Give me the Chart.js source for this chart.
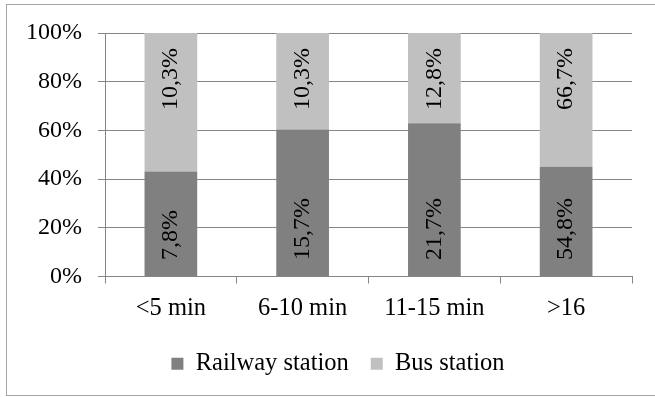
<!DOCTYPE html>
<html>
<head>
<meta charset="utf-8">
<script src="https://cdn.jsdelivr.net/npm/chart.js@4/dist/chart.umd.min.js"></script>
<style>
  html, body { margin: 0; padding: 0; background: #ffffff; }
  #wrap { width: 655px; height: 397px; position: relative; }
</style>
</head>
<body>
<div id="wrap"><canvas id="c" width="655" height="397"></canvas></div>
<script>
// Travel time to station, share of respondents by station type
const categories = ['<5 min', '6-10 min', '11-15 min', '>16'];
const railwayValues = [7.8, 15.7, 21.7, 54.8];
const busValues = [10.3, 10.3, 12.8, 66.7];
const yTicks = [0, 20, 40, 60, 80, 100];

// 100% stacked: each column is split by the share of its two values
const totals = categories.map((_, i) => railwayValues[i] + busValues[i]);
const railwayShare = railwayValues.map((v, i) => v / totals[i] * 100);
const busShare = busValues.map((v, i) => v / totals[i] * 100);

const FONT = 'Liberation Serif, Times New Roman, serif';
const GRID = '#868686';

const fmt = v => v.toFixed(1).replace('.', ',') + '%';

// outer frame around the whole chart
const framePlugin = {
  id: 'frame',
  beforeDraw(chart) {
    const ctx = chart.ctx;
    ctx.save();
    ctx.strokeStyle = '#a6a6a6';
    ctx.lineWidth = 1;
    ctx.strokeRect(6.5, 4.5, 700, 391);
    ctx.restore();
  }
};

// centre the legend under the frame rather than under the full canvas
const legendShift = {
  id: 'legendShift',
  afterLayout(chart) {
    if (chart.legend) {
      chart.legend.left += 44;
      chart.legend.top += 3;
    }
  }
};

// vertical value labels inside the bars
const valueLabels = {
  id: 'valueLabels',
  afterDatasetsDraw(chart) {
    const ctx = chart.ctx;
    ctx.save();
    ctx.font = '24px ' + FONT;
    ctx.fillStyle = '#000000';
    ctx.textBaseline = 'middle';
    chart.data.datasets.forEach((ds, di) => {
      const meta = chart.getDatasetMeta(di);
      meta.data.forEach((bar, i) => {
        const raw = ds.rawValues[i];
        const top = Math.min(bar.y, bar.base);
        const bottom = Math.max(bar.y, bar.base);
        ctx.save();
        ctx.translate(bar.x, 0);
        ctx.rotate(-Math.PI / 2);
        if (di === 0) {
          ctx.textAlign = 'left';
          ctx.fillText(fmt(raw), -(bottom - 16), 0);
        } else {
          ctx.textAlign = 'right';
          ctx.fillText(fmt(raw), -(top + 15), 0);
        }
        ctx.restore();
      });
    });
    ctx.restore();
  }
};

new Chart(document.getElementById('c'), {
  type: 'bar',
  data: {
    labels: categories,
    datasets: [
      {
        label: 'Railway station',
        data: railwayShare,
        rawValues: railwayValues,
        backgroundColor: '#808080',
        borderWidth: 0,
        barPercentage: 0.4,
        categoryPercentage: 1.0
      },
      {
        label: 'Bus station',
        data: busShare,
        rawValues: busValues,
        backgroundColor: '#c0c0c0',
        borderWidth: 0,
        barPercentage: 0.4,
        categoryPercentage: 1.0
      }
    ]
  },
  options: {
    responsive: false,
    animation: false,
    devicePixelRatio: 1,
    layout: { padding: { left: 0, right: 23, top: 33, bottom: 14 } },
    plugins: {
      legend: {
        position: 'bottom',
        labels: {
          font: { family: FONT, size: 24.5 },
          color: '#000000',
          boxWidth: 12,
          boxHeight: 12,
          padding: 22
        }
      },
      tooltip: { enabled: false }
    },
    scales: {
      x: {
        stacked: true,
        grid: {
          offset: true,
          drawOnChartArea: false,
          drawTicks: true,
          tickLength: 7,
          color: GRID
        },
        border: { color: GRID },
        ticks: {
          font: { family: FONT, size: 24.5 },
          color: '#000000',
          padding: 10,
          maxRotation: 0,
          autoSkip: false
        },
        afterFit(scale) { scale.height = 50; }
      },
      y: {
        stacked: true,
        min: 0,
        max: 100,
        afterBuildTicks(scale) { scale.ticks = yTicks.map(v => ({ value: v })); },
        grid: {
          color: GRID,
          drawTicks: true,
          tickLength: 7
        },
        border: { color: GRID },
        ticks: {
          font: { family: FONT, size: 24 },
          color: '#000000',
          padding: 16,
          callback: v => v + '%'
        },
        afterFit(scale) { scale.width = 105; }
      }
    }
  },
  plugins: [framePlugin, legendShift, valueLabels]
});
</script>
</body>
</html>
